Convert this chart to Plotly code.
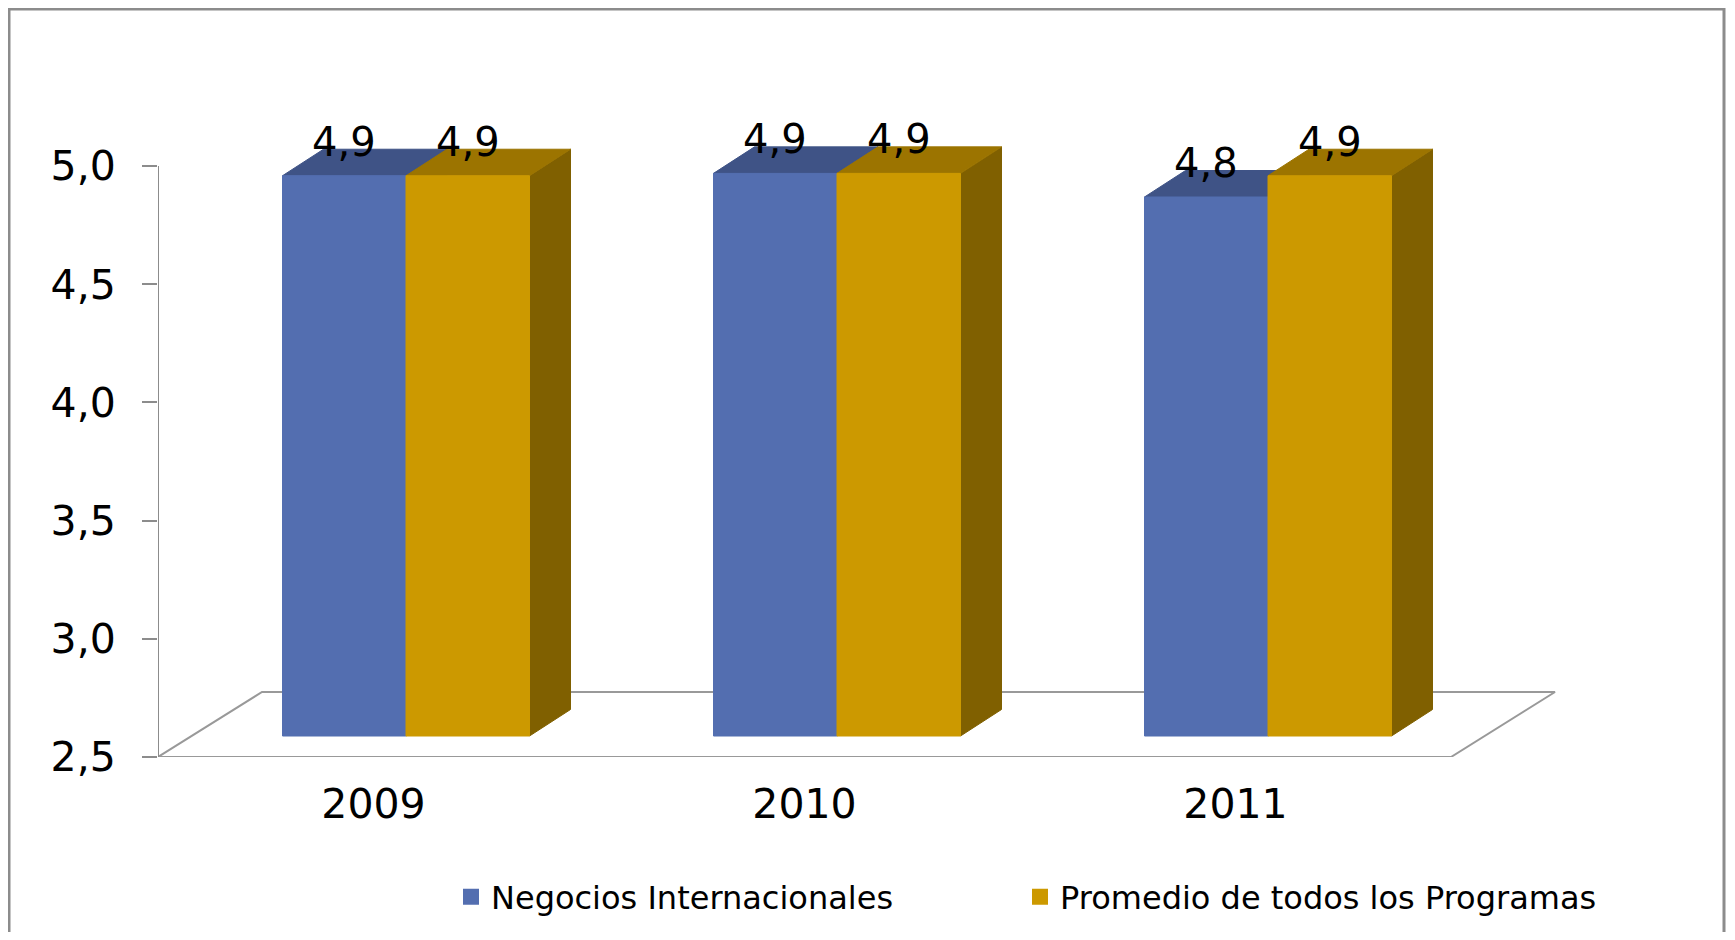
import plotly.graph_objects as go

# data
years = ["2009", "2010", "2011"]
negocios = [4.87, 4.88, 4.78]
promedio = [4.87, 4.88, 4.87]
series_names = ["Negocios Internacionales", "Promedio de todos los Programas"]
y_ticks = [2.5, 3.0, 3.5, 4.0, 4.5, 5.0]

FRONT = ["#536EB0", "#CC9900"]
TOP = ["#3F5386", "#9C7400"]
SIDE = ["#2E3D63", "#806000"]
GRAY = "#8C8C8C"
FONT = "DejaVu Sans"

# page geometry in pixels (the page body adds an 8px margin),
# 3D offsets are converted to data units
W, H = 1719, 924
PX_X, PX_Y = 431.0, 236.4
PLOT_W, PLOT_H = 1442, 657
M_L, M_T = 150, 92
M_R, M_B = W - M_L - PLOT_W, H - M_T - PLOT_H
BASE = y_ticks[0]
x_range = [-0.5, -0.5 + PLOT_W / PX_X]
y_range = [BASE, BASE + PLOT_H / PX_Y]

FLOOR_DX, FLOOR_DY = 104 / PX_X, 65 / PX_Y
BAR_DX, BAR_DY = 32.5 / PX_X, 21 / PX_Y
DEPTH_DX, DEPTH_DY = 41 / PX_X, 26.5 / PX_Y
BAR_W = 123.5 / PX_X


def poly(xs, ys, color, line_color=None, line_width=1, hover=None):
    return go.Scatter(
        x=xs + [xs[0]],
        y=ys + [ys[0]],
        mode="lines",
        fill="toself",
        fillcolor=color,
        line=dict(color=line_color or color, width=line_width),
        hoverinfo="skip" if hover is None else "text",
        text=hover,
        showlegend=False,
    )


fig = go.Figure()

# floor of the 3D box
n = len(years)
fx0, fx1 = -0.5, n - 0.5
fig.add_trace(
    poly(
        [fx0, fx1, fx1 + FLOOR_DX, fx0 + FLOOR_DX],
        [BASE, BASE, BASE + FLOOR_DY, BASE + FLOOR_DY],
        "white",
        line_color="#999999",
        line_width=2,
    )
)

annotations = []
for i, year in enumerate(years):
    for s, values in enumerate([negocios, promedio]):
        v = values[i]
        left = i + BAR_DX + (s - 1) * BAR_W
        right = left + BAR_W
        bottom = BASE + BAR_DY
        top = v + BAR_DY
        # side face
        fig.add_trace(
            poly(
                [right, right + DEPTH_DX, right + DEPTH_DX, right],
                [bottom, bottom + DEPTH_DY, top + DEPTH_DY, top],
                SIDE[s],
            )
        )
        # top face
        fig.add_trace(
            poly(
                [left, right, right + DEPTH_DX, left + DEPTH_DX],
                [top, top, top + DEPTH_DY, top + DEPTH_DY],
                TOP[s],
            )
        )
        # front face
        label = f"{v:.1f}".replace(".", ",")
        fig.add_trace(
            poly(
                [left, right, right, left],
                [bottom, bottom, top, top],
                FRONT[s],
                hover=f"{series_names[s]}<br>{year}: {label}",
            )
        )
        annotations.append(
            dict(
                x=(left + right) / 2,
                y=top,
                text=label,
                showarrow=False,
                yanchor="middle",
                yshift=34,
                font=dict(family=FONT, size=40, color="black"),
            )
        )

# legend entries
for s, name in enumerate(series_names):
    fig.add_trace(
        go.Scatter(
            x=[None],
            y=[None],
            mode="markers",
            marker=dict(symbol="square", size=16, color=FRONT[s]),
            name=name,
            legend="legend" if s == 0 else "legend2",
        )
    )

legend_style = dict(
    orientation="h",
    xref="container",
    yref="container",
    xanchor="left",
    yanchor="middle",
    y=1 - 889 / H,
    font=dict(family=FONT, size=32, color="black"),
    bgcolor="rgba(0,0,0,0)",
)

fig.update_layout(
    width=W,
    height=H,
    margin=dict(l=M_L, r=M_R, t=M_T, b=M_B),
    paper_bgcolor="white",
    plot_bgcolor="white",
    separators=",.",
    font=dict(family=FONT, color="black"),
    showlegend=True,
    legend=dict(x=443 / W, **legend_style),
    legend2=dict(x=1012 / W, **legend_style),
    xaxis=dict(
        range=x_range,
        tickvals=list(range(n)),
        ticktext=years,
        ticks="",
        showline=False,
        showgrid=False,
        zeroline=False,
        tickfont=dict(size=41),
        ticklabelstandoff=19,
    ),
    xaxis2=dict(
        range=x_range,
        overlaying="x",
        anchor="y",
        side="bottom",
        tickvals=[i - 0.5 for i in range(n + 1)],
        ticks="outside",
        ticklen=11,
        tickwidth=2,
        tickcolor=GRAY,
        showticklabels=False,
        showline=False,
        showgrid=False,
        zeroline=False,
    ),
    yaxis=dict(
        range=y_range,
        tickvals=y_ticks,
        tickformat=".1f",
        ticks="outside",
        ticklen=15,
        tickwidth=2,
        tickcolor=GRAY,
        showline=False,
        showgrid=False,
        zeroline=False,
        tickfont=dict(size=41),
        ticklabelstandoff=18,
    ),
    annotations=annotations,
    shapes=[
        dict(
            type="line",
            xref="x",
            yref="y",
            x0=x_range[0],
            x1=x_range[0],
            y0=y_ticks[0],
            y1=y_ticks[-1],
            line=dict(color=GRAY, width=2),
        ),
        dict(
            type="rect",
            xref="paper",
            yref="paper",
            x0=(1 - M_L) / PLOT_W,
            x1=(W - 3 - M_L) / PLOT_W,
            y0=-(M_B + 20) / PLOT_H,
            y1=(PLOT_H + M_T - 1) / PLOT_H,
            line=dict(color=GRAY, width=3),
        ),
    ],
)

fig.write_html("out.html")
